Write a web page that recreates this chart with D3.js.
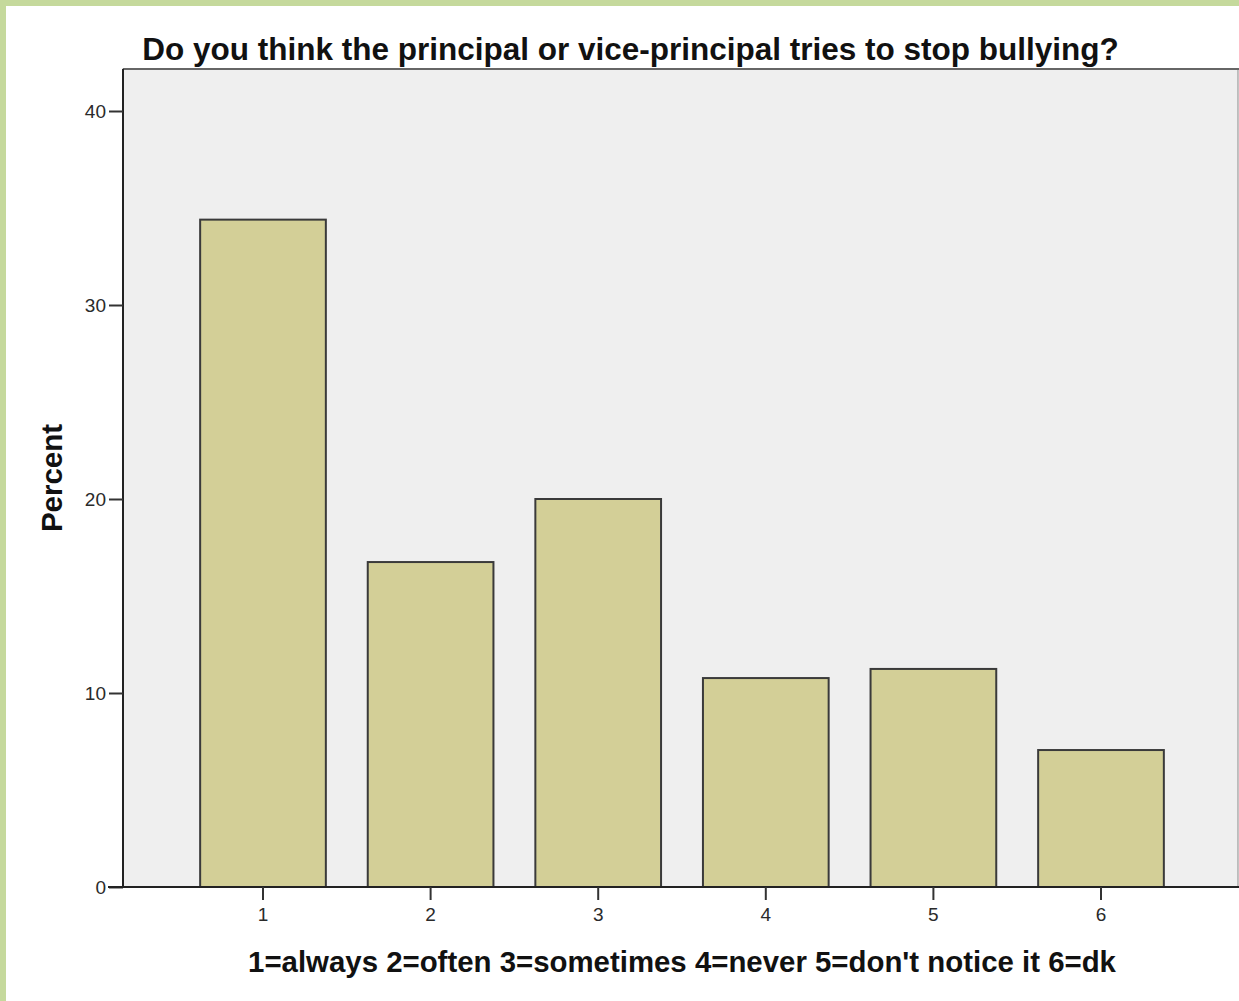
<!DOCTYPE html>
<html>
<head>
<meta charset="utf-8">
<script src="https://cdn.jsdelivr.net/npm/d3@7"></script>
<style>
  html, body { margin: 0; padding: 0; background: #c5d99c; }
  #chart { position: absolute; left: 6px; top: 6px; width: 1233px; height: 995px; background: #fff; }
  text { font-family: "Liberation Sans", Arial, sans-serif; }
</style>
</head>
<body>
<div id="chart"></div>
<script>
const categories = ["1", "2", "3", "4", "5", "6"];
const percents = [34.4, 16.75, 20.0, 10.77, 11.24, 7.06];
const yTicks = [0, 10, 20, 30, 40];
const titleText = "Do you think the principal or vice-principal tries to stop bullying?";
const xLabel = "1=always 2=often 3=sometimes 4=never 5=don't notice it 6=dk";
const yLabel = "Percent";

(function () {
  // coordinates below are page coords, chart div is offset by 6px
  const off = 6;
  const svg = d3.select("#chart").append("svg")
    .attr("width", 1233)
    .attr("height", 995)
    .append("g")
    .attr("transform", "translate(" + -off + "," + -off + ")");

  const plot = { left: 123, top: 69, right: 1238, bottom: 887 };

  const xScale = d3.scaleBand()
    .domain(categories)
    .range([179.2, 1184.8])
    .paddingInner(0.25)
    .paddingOuter(0.125);

  const yScale = d3.scaleLinear().domain([0, 40]).range([plot.bottom, 111]);

  // plot background
  svg.append("rect")
    .attr("x", plot.left)
    .attr("y", plot.top)
    .attr("width", plot.right - plot.left)
    .attr("height", plot.bottom - plot.top)
    .attr("fill", "#efefef")
    .attr("stroke", "#888")
    .attr("stroke-width", 1);

  // top frame line is darker
  svg.append("line")
    .attr("x1", plot.left).attr("x2", 1239)
    .attr("y1", plot.top).attr("y2", plot.top)
    .attr("stroke", "#666").attr("stroke-width", 2);

  // bars
  svg.selectAll(".bar")
    .data(percents)
    .enter().append("rect")
    .attr("class", "bar")
    .attr("x", (d, i) => xScale(categories[i]))
    .attr("y", d => yScale(d))
    .attr("width", xScale.bandwidth())
    .attr("height", d => yScale(0) - yScale(d))
    .attr("fill", "#d3cf97")
    .attr("stroke", "#3a3a3a")
    .attr("stroke-width", 2);

  // y axis
  const yAxis = d3.axisLeft(yScale).tickValues(yTicks).tickSize(14).tickPadding(3);
  const yg = svg.append("g")
    .attr("transform", "translate(" + plot.left + ",0)")
    .call(yAxis);
  yg.select(".domain").attr("stroke", "#222").attr("stroke-width", 2)
    .attr("d", "M0," + plot.top + "V" + plot.bottom);
  yg.selectAll(".tick line").attr("stroke", "#333").attr("stroke-width", 2);
  yg.selectAll(".tick text")
    .style("font-family", "Liberation Sans, Arial, sans-serif")
    .style("font-size", "19px").attr("fill", "#2a2a2a");

  // x axis
  const xAxis = d3.axisBottom(xScale).tickSize(13).tickPadding(8);
  const xg = svg.append("g")
    .attr("transform", "translate(0," + plot.bottom + ")")
    .call(xAxis);
  xg.select(".domain").attr("stroke", "#222").attr("stroke-width", 2)
    .attr("d", "M108,0H1239");
  xg.selectAll(".tick line").attr("stroke", "#333").attr("stroke-width", 2);
  xg.selectAll(".tick text")
    .style("font-family", "Liberation Sans, Arial, sans-serif")
    .style("font-size", "19px").attr("fill", "#2a2a2a");

  // title
  svg.append("text")
    .attr("x", 630.5)
    .attr("y", 60)
    .attr("text-anchor", "middle")
    .style("font-size", "31.5px")
    .attr("font-weight", "bold")
    .attr("fill", "#111")
    .text(titleText);

  // x label
  svg.append("text")
    .attr("x", 682)
    .attr("y", 972)
    .attr("text-anchor", "middle")
    .style("font-size", "29.4px")
    .attr("font-weight", "bold")
    .attr("fill", "#111")
    .text(xLabel);

  // y label
  svg.append("text")
    .attr("transform", "translate(62,478) rotate(-90)")
    .attr("text-anchor", "middle")
    .style("font-size", "29.5px")
    .attr("font-weight", "bold")
    .attr("fill", "#111")
    .text(yLabel);
})();
</script>
</body>
</html>
